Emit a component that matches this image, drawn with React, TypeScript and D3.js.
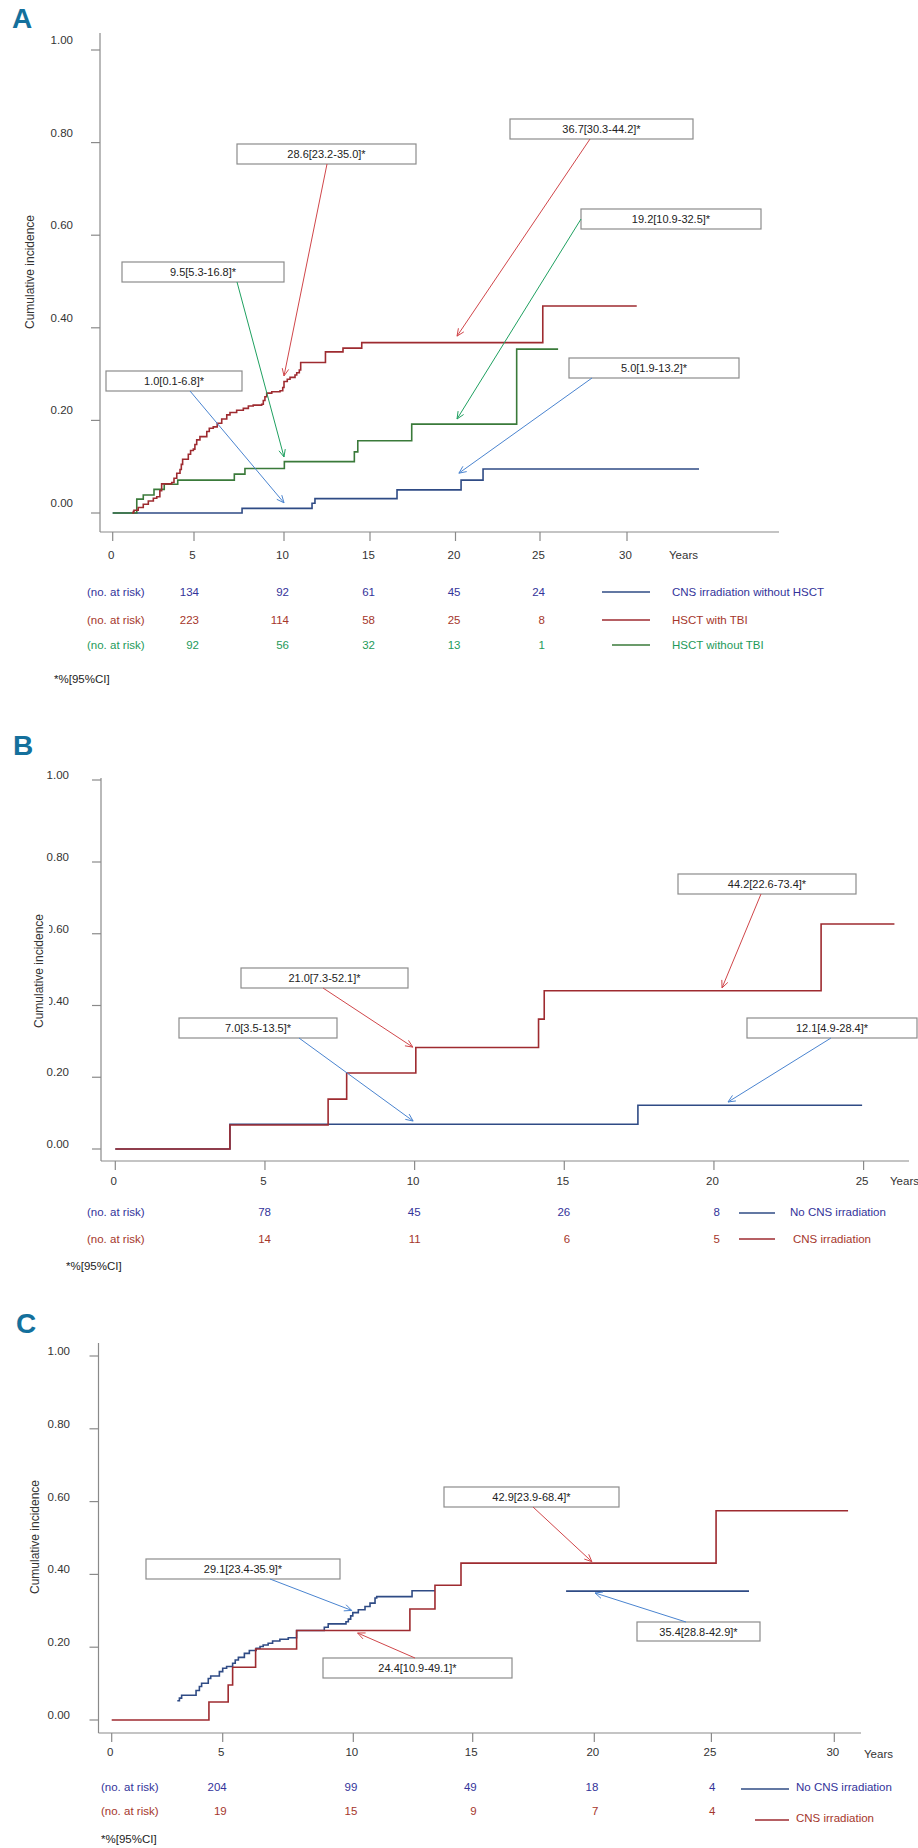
import React from "react";
import * as d3 from "d3";

type Step = [number, number | null];

// ---------------- Panel A data ----------------
const aXTicks = [0, 5, 10, 15, 20, 25, 30];
const aYTicks = [0, 0.2, 0.4, 0.6, 0.8, 1.0];
const aCnsNoHsct: Step[] = [[0, 0], [7.67, 0.010], [11.63, 0.021], [11.80, 0.031], [16.58, 0.050], [20.33, 0.071], [21.63, 0.095], [34.14, 0.095]];
const aHsctNoTbi: Step[] = [[0, 0], [1.48, 0.030], [1.88, 0.039], [2.54, 0.051], [3.17, 0.062], [4.0, 0.071], [7.24, 0.084], [7.83, 0.096], [10.02, 0.111], [14.09, 0.132], [14.29, 0.156], [17.44, 0.192], [23.62, 0.354], [26.04, 0.354]];
const aHsctTbi: Step[] = [[1.2, 0], [1.27, 0.003], [1.31, 0.006], [1.57, 0.012], [1.88, 0.019], [2.19, 0.026], [2.5, 0.032], [2.71, 0.035], [2.9, 0.048], [3.01, 0.063], [3.63, 0.066], [3.77, 0.075], [3.94, 0.086], [4.14, 0.094], [4.22, 0.105], [4.3, 0.116], [4.65, 0.127], [4.79, 0.135], [4.96, 0.138], [5.05, 0.148], [5.15, 0.158], [5.33, 0.165], [5.71, 0.176], [5.85, 0.183], [6.07, 0.186], [6.29, 0.194], [6.54, 0.203], [6.82, 0.212], [7.0, 0.217], [7.37, 0.222], [7.74, 0.226], [8.02, 0.231], [8.29, 0.233], [8.76, 0.235], [8.85, 0.243], [8.94, 0.251], [9.04, 0.259], [9.32, 0.262], [9.78, 0.264], [9.93, 0.271], [10.0, 0.284], [10.19, 0.289], [10.35, 0.293], [10.64, 0.298], [10.74, 0.303], [10.89, 0.309], [10.97, 0.325], [12.41, 0.348], [13.43, 0.356], [14.52, 0.368], [25.16, 0.447], [30.56, 0.447]];
const aRiskTimes = [5, 10, 15, 20, 25];
const aRiskCnsNoHsct = [134, 92, 61, 45, 24];
const aRiskHsctTbi = [223, 114, 58, 25, 8];
const aRiskHsctNoTbi = [92, 56, 32, 13, 1];
const aNames = ["CNS irradiation without HSCT", "HSCT with TBI", "HSCT without TBI"];
const aLabels = ["28.6[23.2-35.0]*", "9.5[5.3-16.8]*", "36.7[30.3-44.2]*", "19.2[10.9-32.5]*", "1.0[0.1-6.8]*", "5.0[1.9-13.2]*"];
const aTargets: [number, number][] = [[10, 0.296], [10, 0.121], [20.09, 0.382], [20.09, 0.203], [10, 0.022], [20.2, 0.086]];

// ---------------- Panel B data ----------------
const bXTicks = [0, 5, 10, 15, 20, 25];
const bYTicks = [0, 0.2, 0.4, 0.6, 0.8, 1.0];
const bNoCns: Step[] = [[0, 0], [3.83, 0.069], [17.46, 0.122], [24.95, 0.122]];
const bCns: Step[] = [[0, 0], [3.83, 0.067], [7.11, 0.139], [7.73, 0.212], [10.04, 0.283], [14.14, 0.362], [14.33, 0.441], [23.58, 0.627], [26.03, 0.627]];
const bRiskTimes = [5, 10, 15, 20];
const bRiskNoCns = [78, 45, 26, 8];
const bRiskCns = [14, 11, 6, 5];
const bNames = ["No CNS irradiation", "CNS irradiation"];
const bLabels = ["21.0[7.3-52.1]*", "7.0[3.5-13.5]*", "44.2[22.6-73.4]*", "12.1[4.9-28.4]*"];
const bTargets: [number, number][] = [[9.94, 0.284], [9.95, 0.078], [20.27, 0.449], [20.47, 0.131]];

// ---------------- Panel C data ----------------
const cXTicks = [0, 5, 10, 15, 20, 25, 30];
const cYTicks = [0, 0.2, 0.4, 0.6, 0.8, 1.0];
const cNoCns: Step[] = [[2.955, 0.053], [3.05, 0.060], [3.15, 0.068], [3.8, 0.081], [3.95, 0.092], [4.05, 0.101], [4.35, 0.114], [4.46, 0.121], [4.85, 0.133], [5.0, 0.142], [5.15, 0.147], [5.38, 0.156], [5.48, 0.165], [5.6, 0.172], [5.83, 0.183], [6.02, 0.191], [6.28, 0.197], [6.43, 0.202], [6.55, 0.206], [6.74, 0.211], [6.91, 0.217], [7.19, 0.222], [7.51, 0.226], [7.83, 0.246], [8.89, 0.255], [9.04, 0.264], [9.72, 0.270], [9.81, 0.277], [9.9, 0.286], [9.98, 0.295], [10.21, 0.303], [10.49, 0.312], [10.7, 0.321], [10.91, 0.335], [10.98, 0.339], [12.46, 0.355], [13.42, 0.355], [13.42, null], [18.84, 0.354], [26.53, 0.354]];
const cCns: Step[] = [[0, 0], [4.38, 0.0495], [5.21, 0.096], [5.38, 0.145], [6.26, 0.195], [7.83, 0.246], [12.37, 0.305], [13.42, 0.37], [14.51, 0.431], [25.19, 0.575], [30.56, 0.575]];
const cRiskTimes = [5, 10, 15, 20, 25];
const cRiskNoCns = [204, 99, 49, 18, 4];
const cRiskCns = [19, 15, 9, 7, 4];
const cNames = ["No CNS irradiation", "CNS irradiation"];
const cLabels = ["29.1[23.4-35.9]*", "24.4[10.9-49.1]*", "42.9[23.9-68.4]*", "35.4[28.8-42.9]*"];
const cTargets: [number, number][] = [[9.94, 0.301], [10.18, 0.239], [19.9, 0.435], [20.03, 0.349]];

// ---------------- styles ----------------
const FONT = "'Liberation Sans', Arial, Helvetica, sans-serif";
const LETTER_FONT = "'Liberation Sans Narrow', 'Arial Narrow', 'Liberation Sans', sans-serif";
const C_BLUE = "#2f4b85";
const C_RED = "#9e2b30";
const C_GREEN = "#3a7a3a";
const T_BLUE = "#33339a";
const T_RED = "#a5362b";
const T_GREEN = "#1e9a5a";
const A_BLUE = "#4a84d0";
const A_RED = "#d0464a";
const A_GREEN = "#1fa060";
const AXIS = "#8a8a8a";
const LETTER = "#14709c";

interface SeriesDef { steps: Step[]; color: string; risk: number[]; riskColor: string; name: string; }
interface PanelCfg {
  letter: string; letterPos: [number, number];
  xDomain: number[]; xRange: number[];
  yDomain: number[]; yRange: number[];
  xTicks: number[]; yTicks: number[];
  axisLeft: number; axisTop: number; axisBottom: number; axisRight: number; tickLen: number;
  yLabelRight: number; yLabelDy: number; xLabelY: number; yearsPos: [number, number];
  titlePos: [number, number]; titleMask: [number, number, number, number] | null;
  series: SeriesDef[]; drawOrder: number[];
  riskTimes: number[]; riskDx: number; riskLabelX: number; riskRowsY: number[];
  legendLines: [number, number, number][]; legendText: [number, number][];
  foot: [number, number];
  labels: string[]; targets: [number, number][]; arrowColors: string[];
  boxes: [number, number, number, number][]; arrowFrom: [number, number][];
}

const panels: PanelCfg[] = [
  {
    letter: "A", letterPos: [12, 28],
    xDomain: aXTicks, xRange: [112.7, 194, 284, 370, 455.5, 540, 627],
    yDomain: [0, 1], yRange: [513, 50],
    xTicks: aXTicks, yTicks: aYTicks,
    axisLeft: 100, axisTop: 33, axisBottom: 532, axisRight: 779, tickLen: 9,
    yLabelRight: 73, yLabelDy: -10, xLabelY: 555, yearsPos: [669, 555],
    titlePos: [30, 272], titleMask: null,
    series: [
      { steps: aCnsNoHsct, color: C_BLUE, risk: aRiskCnsNoHsct, riskColor: T_BLUE, name: aNames[0] },
      { steps: aHsctTbi, color: C_RED, risk: aRiskHsctTbi, riskColor: T_RED, name: aNames[1] },
      { steps: aHsctNoTbi, color: C_GREEN, risk: aRiskHsctNoTbi, riskColor: T_GREEN, name: aNames[2] },
    ],
    drawOrder: [0, 2, 1],
    riskTimes: aRiskTimes, riskDx: 5, riskLabelX: 87, riskRowsY: [592, 620, 645],
    legendLines: [[602, 650, 592], [602, 650, 620], [612, 650, 645]],
    legendText: [[672, 592], [672, 620], [672, 645]],
    foot: [54, 679],
    labels: aLabels, targets: aTargets,
    arrowColors: [A_RED, A_GREEN, A_RED, A_GREEN, A_BLUE, A_BLUE],
    boxes: [[237, 144, 416, 164], [122, 262, 284, 282], [510, 119, 693, 139], [581, 209, 761, 229], [106, 371, 242, 391], [569, 358, 739, 378]],
    arrowFrom: [[327, 164], [237, 282], [590, 139], [581, 219], [190, 391], [592, 378]],
  },
  {
    letter: "B", letterPos: [13, 755],
    xDomain: [0, 25], xRange: [115.3, 863.6],
    yDomain: [0, 0.8, 1], yRange: [1149, 862, 780],
    xTicks: bXTicks, yTicks: bYTicks,
    axisLeft: 101, axisTop: 778, axisBottom: 1161, axisRight: 909, tickLen: 9,
    yLabelRight: 69, yLabelDy: -5, xLabelY: 1181, yearsPos: [890, 1181],
    titlePos: [39, 971], titleMask: [30, 905, 19, 130],
    series: [
      { steps: bNoCns, color: C_BLUE, risk: bRiskNoCns, riskColor: T_BLUE, name: bNames[0] },
      { steps: bCns, color: C_RED, risk: bRiskCns, riskColor: T_RED, name: bNames[1] },
    ],
    drawOrder: [0, 1],
    riskTimes: bRiskTimes, riskDx: 6, riskLabelX: 87, riskRowsY: [1212, 1239],
    legendLines: [[739, 775, 1213], [739, 775, 1239]],
    legendText: [[790, 1212], [793, 1239]],
    foot: [66, 1266],
    labels: bLabels, targets: bTargets,
    arrowColors: [A_RED, A_BLUE, A_RED, A_BLUE],
    boxes: [[241, 968, 408, 988], [179, 1018, 337, 1038], [678, 874, 856, 894], [747, 1018, 917, 1038]],
    arrowFrom: [[323, 988], [299, 1038], [761, 894], [831, 1038]],
  },
  {
    letter: "C", letterPos: [16, 1333],
    xDomain: cXTicks, xRange: [111.7, 222.7, 353.3, 472.7, 594.3, 711.4, 834.3],
    yDomain: [0, 1], yRange: [1720, 1356],
    xTicks: cXTicks, yTicks: cYTicks,
    axisLeft: 98.5, axisTop: 1343, axisBottom: 1733, axisRight: 861, tickLen: 9,
    yLabelRight: 70, yLabelDy: -5, xLabelY: 1752, yearsPos: [864, 1754],
    titlePos: [35, 1537], titleMask: null,
    series: [
      { steps: cNoCns, color: C_BLUE, risk: cRiskNoCns, riskColor: T_BLUE, name: cNames[0] },
      { steps: cCns, color: C_RED, risk: cRiskCns, riskColor: T_RED, name: cNames[1] },
    ],
    drawOrder: [0, 1],
    riskTimes: cRiskTimes, riskDx: 4, riskLabelX: 101, riskRowsY: [1787, 1811],
    legendLines: [[741, 789, 1789], [755, 789, 1820]],
    legendText: [[796, 1787], [796, 1818]],
    foot: [101, 1839],
    labels: cLabels, targets: cTargets,
    arrowColors: [A_BLUE, A_RED, A_RED, A_BLUE],
    boxes: [[146, 1559, 340, 1579], [323, 1658, 512, 1678], [444, 1487, 619, 1507], [637, 1622, 760, 1641]],
    arrowFrom: [[270, 1579], [415, 1658], [533, 1507], [686, 1622]],
  },
];

function arrowHead(sx: number, sy: number, tx: number, ty: number) {
  const ang = Math.atan2(ty - sy, tx - sx);
  const L = 8, a = (24 * Math.PI) / 180;
  const p1 = [tx - L * Math.cos(ang - a), ty - L * Math.sin(ang - a)];
  const p2 = [tx - L * Math.cos(ang + a), ty - L * Math.sin(ang + a)];
  return `M${p1[0]},${p1[1]}L${tx},${ty}L${p2[0]},${p2[1]}`;
}

const fmt = d3.format(".2f");

function Panel({ cfg }: { cfg: PanelCfg }) {
  const x = d3.scaleLinear().domain(cfg.xDomain).range(cfg.xRange);
  const y = d3.scaleLinear().domain(cfg.yDomain).range(cfg.yRange);
  const line = d3
    .line<Step>()
    .defined((d) => d[1] !== null)
    .x((d) => x(d[0]))
    .y((d) => y(d[1] as number))
    .curve(d3.curveStepAfter);

  return (
    <g fontFamily={FONT}>
      <text x={cfg.letterPos[0]} y={cfg.letterPos[1]} fontFamily={LETTER_FONT} fontWeight="bold" fontSize={28} fill={LETTER}>
        {cfg.letter}
      </text>
      {/* axes */}
      <line x1={cfg.axisLeft} x2={cfg.axisLeft} y1={cfg.axisTop} y2={cfg.axisBottom} stroke={AXIS} strokeWidth={1.2} />
      <line x1={cfg.axisLeft} x2={cfg.axisRight} y1={cfg.axisBottom} y2={cfg.axisBottom} stroke={AXIS} strokeWidth={1.2} />
      {cfg.yTicks.map((t) => (
        <g key={"y" + t}>
          <line x1={cfg.axisLeft - cfg.tickLen} x2={cfg.axisLeft} y1={y(t)} y2={y(t)} stroke={AXIS} strokeWidth={1.2} />
          <text x={cfg.yLabelRight} y={y(t) + cfg.yLabelDy} textAnchor="end" dominantBaseline="central" fontSize={11.5} fill="#333">
            {fmt(t)}
          </text>
        </g>
      ))}
      {cfg.xTicks.map((t) => (
        <g key={"x" + t}>
          <line x1={x(t)} x2={x(t)} y1={cfg.axisBottom} y2={cfg.axisBottom + cfg.tickLen} stroke={AXIS} strokeWidth={1.2} />
          <text x={x(t) - 1.5} y={cfg.xLabelY} textAnchor="middle" dominantBaseline="central" fontSize={11.5} fill="#333">
            {t}
          </text>
        </g>
      ))}
      <text x={cfg.yearsPos[0]} y={cfg.yearsPos[1]} dominantBaseline="central" fontSize={11.5} fill="#333">
        Years
      </text>
      {cfg.titleMask && (
        <rect x={cfg.titleMask[0]} y={cfg.titleMask[1]} width={cfg.titleMask[2]} height={cfg.titleMask[3]} fill="#fff" />
      )}
      <text
        transform={`translate(${cfg.titlePos[0]},${cfg.titlePos[1]}) rotate(-90)`}
        textAnchor="middle"
        dominantBaseline="central"
        fontSize={12}
        fill="#333"
      >
        Cumulative incidence
      </text>
      {/* curves */}
      {cfg.drawOrder.map((i) => (
        <path key={"s" + i} d={line(cfg.series[i].steps) || ""} fill="none" stroke={cfg.series[i].color} strokeWidth={1.6} />
      ))}
      {/* annotations */}
      {cfg.labels.map((lab, i) => {
        const [x0, y0, x1, y1] = cfg.boxes[i];
        const [sx, sy] = cfg.arrowFrom[i];
        const tx = x(cfg.targets[i][0]);
        const ty = y(cfg.targets[i][1]);
        return (
          <g key={"a" + i}>
            <rect x={x0} y={y0} width={x1 - x0} height={y1 - y0} fill="#fff" stroke="#8c8c8c" strokeWidth={1.2} />
            <text x={(x0 + x1) / 2} y={(y0 + y1) / 2} textAnchor="middle" dominantBaseline="central" fontSize={11} fill="#222">
              {lab}
            </text>
            <line x1={sx} y1={sy} x2={tx} y2={ty} stroke={cfg.arrowColors[i]} strokeWidth={1} />
            <path d={arrowHead(sx, sy, tx, ty)} fill="none" stroke={cfg.arrowColors[i]} strokeWidth={1} />
          </g>
        );
      })}
      {/* numbers at risk */}
      {cfg.series.map((s, i) => (
        <g key={"r" + i} fill={s.riskColor} fontSize={11.5}>
          <text x={cfg.riskLabelX} y={cfg.riskRowsY[i]} dominantBaseline="central">
            (no. at risk)
          </text>
          {s.risk.map((n, j) => (
            <text key={j} x={x(cfg.riskTimes[j]) + cfg.riskDx} y={cfg.riskRowsY[i]} textAnchor="end" dominantBaseline="central">
              {n}
            </text>
          ))}
          <line
            x1={cfg.legendLines[i][0]}
            x2={cfg.legendLines[i][1]}
            y1={cfg.legendLines[i][2]}
            y2={cfg.legendLines[i][2]}
            stroke={s.color}
            strokeWidth={1.6}
          />
          <text x={cfg.legendText[i][0]} y={cfg.legendText[i][1]} dominantBaseline="central">
            {s.name}
          </text>
        </g>
      ))}
      <text x={cfg.foot[0]} y={cfg.foot[1]} dominantBaseline="central" fontSize={11.5} fill="#222">
        *%[95%CI]
      </text>
    </g>
  );
}

export default function App() {
  return (
    <svg
      width={918}
      height={1848}
      viewBox="0 0 918 1848"
      style={{ position: "absolute", left: 0, top: 0, background: "#fff", display: "block" }}
    >
      <rect x={0} y={0} width={918} height={1848} fill="#fff" />
      {panels.map((p) => (
        <Panel key={p.letter} cfg={p} />
      ))}
    </svg>
  );
}
